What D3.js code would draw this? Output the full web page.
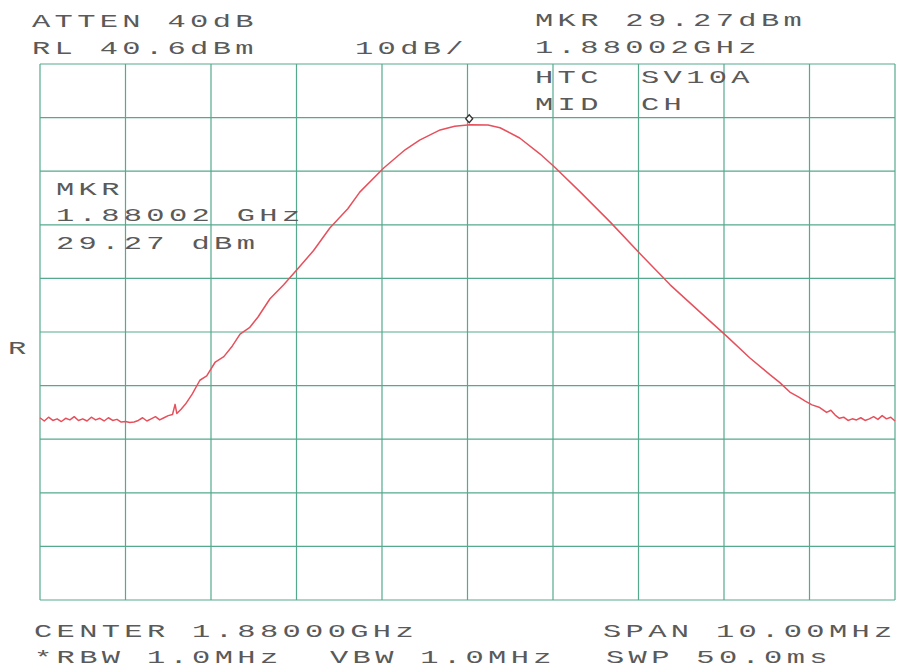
<!DOCTYPE html>
<html>
<head>
<meta charset="utf-8">
<script src="https://cdn.jsdelivr.net/npm/d3@7"></script>
<style>
  html, body { margin: 0; padding: 0; background: #fff; }
  svg { display: block; }
</style>
</head>
<body>
<svg id="chart" width="898" height="671"></svg>
<script>
// ---- Data ----
const centerMHz = 1880.0;
const spanMHz = 10.0;
const refLevelDbm = 40.6;
const dbPerDiv = 10;
const xDivisions = 10;
const yDivisions = 10;

// Trace: frequency offset from centre (MHz) and level (dBm)
const traceOffsetMHz = [
  -5.00,-4.95,-4.90,-4.85,-4.80,-4.75,-4.70,-4.65,-4.60,-4.55,-4.50,-4.45,
  -4.40,-4.35,-4.30,-4.25,-4.20,-4.15,-4.10,-4.05,-4.00,-3.95,-3.90,-3.85,
  -3.80,-3.75,-3.70,-3.65,-3.60,-3.55,-3.50,-3.45,-3.42,-3.40,-3.35,-3.30,
  -3.22,-3.13,-3.05,-2.95,-2.85,-2.75,-2.66,-2.55,-2.45,-2.31,-2.15,-1.98,
  -1.80,-1.61,-1.40,-1.26,-0.98,-0.73,-0.56,-0.32,-0.15,0.03,0.24,0.38,
  0.61,0.85,1.03,1.32,1.67,2.03,2.37,2.72,3.04,3.30,3.54,3.65,3.77,3.88,
  3.95,4.03,4.12,4.20,4.25,4.30,4.35,4.40,4.45,4.50,4.55,4.60,4.65,4.70,
  4.75,4.80,4.85,4.90,4.95,5.00
];
const traceLevelDbm = [
  -25.4,-26.0,-25.3,-25.9,-25.6,-26.1,-25.5,-25.8,-25.2,-25.9,-25.6,-26.0,
  -25.3,-25.8,-25.5,-26.0,-25.4,-25.9,-25.7,-26.2,-26.1,-26.3,-26.2,-25.9,
  -25.4,-26.0,-25.6,-25.2,-25.8,-25.4,-25.0,-24.8,-22.9,-24.6,-23.8,-22.9,
  -21.0,-18.4,-17.6,-15.0,-14.0,-12.0,-9.8,-8.6,-6.6,-3.2,-0.6,2.5,
  5.8,10.0,13.6,16.7,21.2,24.6,26.4,28.3,29.0,29.27,29.2,28.7,
  26.8,23.8,21.2,16.7,11.1,5.0,-0.6,-5.7,-10.3,-14.2,-17.4,-18.8,-20.6,-21.6,
  -22.3,-23.0,-23.5,-24.4,-24.0,-24.9,-25.5,-25.3,-25.9,-25.6,-25.8,-25.4,-25.9,-25.6,
  -25.2,-25.7,-25.0,-25.6,-25.3,-26.0
];

const markerOffsetMHz = 0.02;
const markerLevelDbm = 29.27;

// Annotation texts
const headerLeft = ["ATTEN 40dB", "RL 40.6dBm"];
const scaleLabel = "10dB/";
const headerRight = ["MKR 29.27dBm", "1.88002GHz"];
const infoCol1 = ["HTC", "MID"];
const infoCol2 = ["SV10A", "CH"];
const markerBox = ["MKR", "1.88002 GHz", "29.27 dBm"];
const refMark = "R";
const footerRow1 = ["CENTER 1.88000GHz", "SPAN 10.00MHz"];
const footerRow2 = ["*RBW 1.0MHz", "VBW 1.0MHz", "SWP 50.0ms"];

// ---- Drawing ----
const svg = d3.select("#chart");
const plot = { left: 40, right: 895, top: 64, bottom: 600 };

const x = d3.scaleLinear()
  .domain([centerMHz - spanMHz / 2, centerMHz + spanMHz / 2])
  .range([plot.left, plot.right]);
const y = d3.scaleLinear()
  .domain([refLevelDbm - dbPerDiv * yDivisions, refLevelDbm])
  .range([plot.bottom, plot.top]);

const gridColor = "#55a98d";
const xGrid = d3.range(xDivisions + 1).map(i => x.domain()[0] + i * spanMHz / xDivisions);
const yGrid = d3.range(yDivisions + 1).map(i => refLevelDbm - i * dbPerDiv);

const grid = svg.append("g");
grid.selectAll("line.v").data(xGrid).join("line")
  .attr("x1", d => x(d)).attr("x2", d => x(d))
  .attr("y1", plot.top).attr("y2", plot.bottom)
  .attr("stroke", gridColor).attr("stroke-width", 1.2);
grid.selectAll("line.h").data(yGrid).join("line")
  .attr("y1", d => y(d)).attr("y2", d => y(d))
  .attr("x1", plot.left).attr("x2", plot.right)
  .attr("stroke", gridColor).attr("stroke-width", 1.2);

// trace
const points = traceOffsetMHz.map((f, i) => [centerMHz + f, traceLevelDbm[i]]);
const line = d3.line().x(d => x(d[0])).y(d => y(d[1]));
svg.append("path")
  .attr("d", line(points))
  .attr("fill", "none")
  .attr("stroke", "#e6505c")
  .attr("stroke-width", 1.5)
  .attr("stroke-linejoin", "round");

// marker diamond
const mx = x(centerMHz + markerOffsetMHz);
const my = y(markerLevelDbm) - 6;
svg.append("path")
  .attr("d", `M${mx},${my - 4} L${mx + 3.5},${my} L${mx},${my + 4} L${mx - 3.5},${my} Z`)
  .attr("fill", "#fff")
  .attr("stroke", "#333")
  .attr("stroke-width", 1.3);

// text helper: wide plotter-like lettering
const pitch = 22.6;
const fontSize = 19;
const sx = 1.6;
const adv = 0.6 * fontSize;
const ls = pitch / sx - adv;
function label(t, px, py) {
  svg.append("text")
    .attr("transform", `translate(${px},${py}) scale(${sx},1)`)
    .attr("font-family", "'Liberation Mono', 'DejaVu Sans Mono', monospace")
    .attr("font-size", fontSize)
    .attr("letter-spacing", ls)
    .attr("fill", "#5a5a5a")
    .attr("xml:space", "preserve")
    .style("white-space", "pre")
    .text(t);
}

label(headerLeft[0], 32, 27);
label(headerLeft[1], 32, 54);
label(scaleLabel, 355, 54);
label(headerRight[0], 535, 26);
label(headerRight[1], 535, 53);
label(infoCol1[0], 535, 83);
label(infoCol1[1], 535, 110);
label(infoCol2[0], 641, 83);
label(infoCol2[1], 641, 110);
label(markerBox[0], 56, 195);
label(markerBox[1], 56, 221);
label(markerBox[2], 56, 249);
label(refMark, 8, 354);
label(footerRow1[0], 34, 637);
label(footerRow1[1], 603, 637);
label(footerRow2[0], 34, 663);
label(footerRow2[1], 330, 663);
label(footerRow2[2], 606, 663);
</script>
</body>
</html>
